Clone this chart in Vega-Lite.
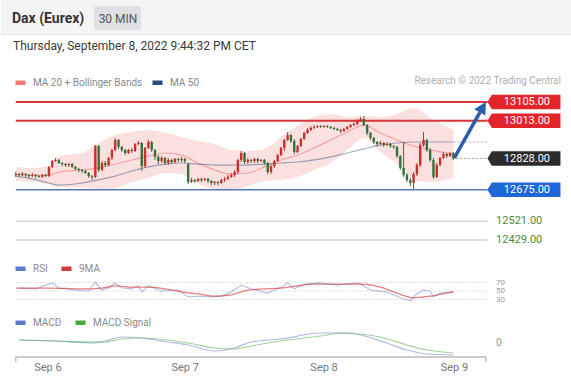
{
  "$schema": "https://vega.github.io/schema/vega-lite/v6.json",
  "width": 571,
  "height": 383,
  "autosize": {"type": "fit", "contains": "padding"},
  "padding": 0,
  "background": "white",
  "config": {
    "view": {"stroke": null},
    "axis": {"disable": true},
    "font": "Roboto",
    "legend": {"orient": "none", "direction": "horizontal", "padding": 0, "offset": 0, "symbolType": "stroke", "symbolSize": 100, "symbolStrokeWidth": 4.5, "symbolOpacity": 1, "labelFont": "Roboto", "labelFontSize": 10, "labelColor": "#8a8a8a", "labelOffset": 5, "columnPadding": 0, "title": null}
  },
  "datasets": {
    "candles": [
      {"i":0,"o":12747,"h":12762,"l":12738,"c":12752},
      {"i":1,"o":12752,"h":12757,"l":12738,"c":12747},
      {"i":2,"o":12747,"h":12762,"l":12742,"c":12752},
      {"i":3,"o":12752,"h":12757,"l":12738,"c":12747},
      {"i":4,"o":12747,"h":12752,"l":12733,"c":12742},
      {"i":5,"o":12742,"h":12757,"l":12738,"c":12747},
      {"i":6,"o":12747,"h":12752,"l":12733,"c":12742},
      {"i":7,"o":12742,"h":12747,"l":12733,"c":12738},
      {"i":8,"o":12738,"h":12752,"l":12733,"c":12747},
      {"i":9,"o":12747,"h":12752,"l":12738,"c":12742},
      {"i":10,"o":12742,"h":12791,"l":12738,"c":12787},
      {"i":11,"o":12787,"h":12821,"l":12782,"c":12816},
      {"i":12,"o":12816,"h":12831,"l":12811,"c":12821},
      {"i":13,"o":12821,"h":12826,"l":12801,"c":12806},
      {"i":14,"o":12806,"h":12811,"l":12791,"c":12801},
      {"i":15,"o":12801,"h":12806,"l":12787,"c":12796},
      {"i":16,"o":12796,"h":12806,"l":12787,"c":12801},
      {"i":17,"o":12801,"h":12806,"l":12782,"c":12787},
      {"i":18,"o":12787,"h":12791,"l":12772,"c":12777},
      {"i":19,"o":12777,"h":12782,"l":12762,"c":12772},
      {"i":20,"o":12772,"h":12777,"l":12757,"c":12767},
      {"i":21,"o":12767,"h":12772,"l":12752,"c":12757},
      {"i":22,"o":12757,"h":12762,"l":12733,"c":12742},
      {"i":23,"o":12742,"h":12747,"l":12723,"c":12738},
      {"i":24,"o":12738,"h":12894,"l":12733,"c":12889},
      {"i":25,"o":12889,"h":12894,"l":12762,"c":12772},
      {"i":26,"o":12772,"h":12816,"l":12767,"c":12806},
      {"i":27,"o":12806,"h":12816,"l":12787,"c":12796},
      {"i":28,"o":12796,"h":12836,"l":12791,"c":12831},
      {"i":29,"o":12831,"h":12875,"l":12821,"c":12870},
      {"i":30,"o":12870,"h":12929,"l":12865,"c":12919},
      {"i":31,"o":12919,"h":12924,"l":12875,"c":12885},
      {"i":32,"o":12885,"h":12889,"l":12860,"c":12870},
      {"i":33,"o":12870,"h":12875,"l":12845,"c":12855},
      {"i":34,"o":12855,"h":12875,"l":12850,"c":12870},
      {"i":35,"o":12870,"h":12880,"l":12855,"c":12865},
      {"i":36,"o":12865,"h":12904,"l":12860,"c":12899},
      {"i":37,"o":12899,"h":12914,"l":12894,"c":12904},
      {"i":38,"o":12904,"h":12909,"l":12767,"c":12791},
      {"i":39,"o":12791,"h":12885,"l":12782,"c":12880},
      {"i":40,"o":12880,"h":12919,"l":12875,"c":12909},
      {"i":41,"o":12909,"h":12914,"l":12860,"c":12870},
      {"i":42,"o":12870,"h":12875,"l":12821,"c":12836},
      {"i":43,"o":12836,"h":12845,"l":12801,"c":12816},
      {"i":44,"o":12816,"h":12840,"l":12806,"c":12831},
      {"i":45,"o":12831,"h":12836,"l":12796,"c":12806},
      {"i":46,"o":12806,"h":12831,"l":12796,"c":12821},
      {"i":47,"o":12821,"h":12826,"l":12801,"c":12811},
      {"i":48,"o":12811,"h":12831,"l":12806,"c":12826},
      {"i":49,"o":12826,"h":12831,"l":12811,"c":12821},
      {"i":50,"o":12821,"h":12836,"l":12811,"c":12826},
      {"i":51,"o":12826,"h":12831,"l":12806,"c":12816},
      {"i":52,"o":12801,"h":12806,"l":12703,"c":12713},
      {"i":53,"o":12713,"h":12733,"l":12708,"c":12723},
      {"i":54,"o":12723,"h":12728,"l":12708,"c":12718},
      {"i":55,"o":12718,"h":12733,"l":12713,"c":12728},
      {"i":56,"o":12728,"h":12733,"l":12713,"c":12723},
      {"i":57,"o":12723,"h":12733,"l":12718,"c":12728},
      {"i":58,"o":12728,"h":12733,"l":12708,"c":12718},
      {"i":59,"o":12718,"h":12723,"l":12698,"c":12708},
      {"i":60,"o":12708,"h":12718,"l":12698,"c":12713},
      {"i":61,"o":12713,"h":12718,"l":12698,"c":12708},
      {"i":62,"o":12708,"h":12728,"l":12703,"c":12723},
      {"i":63,"o":12723,"h":12738,"l":12713,"c":12728},
      {"i":64,"o":12728,"h":12747,"l":12723,"c":12738},
      {"i":65,"o":12738,"h":12757,"l":12733,"c":12747},
      {"i":66,"o":12747,"h":12772,"l":12738,"c":12762},
      {"i":67,"o":12762,"h":12826,"l":12752,"c":12821},
      {"i":68,"o":12821,"h":12865,"l":12811,"c":12855},
      {"i":69,"o":12855,"h":12860,"l":12801,"c":12811},
      {"i":70,"o":12811,"h":12831,"l":12801,"c":12821},
      {"i":71,"o":12821,"h":12826,"l":12806,"c":12816},
      {"i":72,"o":12816,"h":12831,"l":12806,"c":12826},
      {"i":73,"o":12826,"h":12831,"l":12806,"c":12816},
      {"i":74,"o":12816,"h":12826,"l":12811,"c":12821},
      {"i":75,"o":12821,"h":12826,"l":12796,"c":12806},
      {"i":76,"o":12806,"h":12811,"l":12752,"c":12762},
      {"i":77,"o":12762,"h":12796,"l":12752,"c":12791},
      {"i":78,"o":12791,"h":12821,"l":12782,"c":12816},
      {"i":79,"o":12816,"h":12850,"l":12811,"c":12845},
      {"i":80,"o":12845,"h":12885,"l":12840,"c":12880},
      {"i":81,"o":12880,"h":12924,"l":12865,"c":12919},
      {"i":82,"o":12919,"h":12958,"l":12914,"c":12943},
      {"i":83,"o":12943,"h":12948,"l":12904,"c":12914},
      {"i":84,"o":12914,"h":12924,"l":12850,"c":12860},
      {"i":85,"o":12860,"h":12894,"l":12855,"c":12889},
      {"i":86,"o":12889,"h":12929,"l":12885,"c":12924},
      {"i":87,"o":12924,"h":12958,"l":12919,"c":12953},
      {"i":88,"o":12953,"h":12978,"l":12948,"c":12968},
      {"i":89,"o":12968,"h":12987,"l":12963,"c":12978},
      {"i":90,"o":12978,"h":12992,"l":12973,"c":12983},
      {"i":91,"o":12983,"h":12992,"l":12978,"c":12987},
      {"i":92,"o":12987,"h":12992,"l":12978,"c":12983},
      {"i":93,"o":12983,"h":12992,"l":12978,"c":12987},
      {"i":94,"o":12987,"h":12992,"l":12978,"c":12983},
      {"i":95,"o":12983,"h":12987,"l":12973,"c":12978},
      {"i":96,"o":12978,"h":12983,"l":12968,"c":12973},
      {"i":97,"o":12973,"h":12978,"l":12963,"c":12968},
      {"i":98,"o":12968,"h":12973,"l":12953,"c":12963},
      {"i":99,"o":12963,"h":12978,"l":12958,"c":12973},
      {"i":100,"o":12973,"h":12987,"l":12968,"c":12983},
      {"i":101,"o":12983,"h":12997,"l":12978,"c":12992},
      {"i":102,"o":12992,"h":13007,"l":12987,"c":12997},
      {"i":103,"o":12997,"h":13022,"l":12992,"c":13012},
      {"i":104,"o":13012,"h":13032,"l":13007,"c":13022},
      {"i":105,"o":13022,"h":13036,"l":12987,"c":12992},
      {"i":106,"o":12992,"h":12997,"l":12943,"c":12953},
      {"i":107,"o":12953,"h":12958,"l":12919,"c":12929},
      {"i":108,"o":12929,"h":12934,"l":12899,"c":12909},
      {"i":109,"o":12909,"h":12914,"l":12889,"c":12899},
      {"i":110,"o":12899,"h":12914,"l":12894,"c":12904},
      {"i":111,"o":12904,"h":12909,"l":12885,"c":12894},
      {"i":112,"o":12894,"h":12909,"l":12889,"c":12899},
      {"i":113,"o":12899,"h":12904,"l":12880,"c":12889},
      {"i":114,"o":12889,"h":12894,"l":12875,"c":12885},
      {"i":115,"o":12885,"h":12889,"l":12831,"c":12840},
      {"i":116,"o":12840,"h":12845,"l":12772,"c":12782},
      {"i":117,"o":12782,"h":12909,"l":12738,"c":12747},
      {"i":118,"o":12747,"h":12757,"l":12713,"c":12723},
      {"i":119,"o":12723,"h":12733,"l":12693,"c":12708},
      {"i":120,"o":12708,"h":12762,"l":12679,"c":12752},
      {"i":121,"o":12752,"h":12806,"l":12742,"c":12796},
      {"i":122,"o":12796,"h":12904,"l":12787,"c":12894},
      {"i":123,"o":12894,"h":12958,"l":12885,"c":12919},
      {"i":124,"o":12919,"h":12924,"l":12860,"c":12870},
      {"i":125,"o":12870,"h":12880,"l":12811,"c":12821},
      {"i":126,"o":12821,"h":12831,"l":12728,"c":12738},
      {"i":127,"o":12738,"h":12806,"l":12733,"c":12796},
      {"i":128,"o":12796,"h":12836,"l":12791,"c":12831},
      {"i":129,"o":12831,"h":12860,"l":12826,"c":12850},
      {"i":130,"o":12850,"h":12855,"l":12831,"c":12840},
      {"i":131,"o":12840,"h":12860,"l":12836,"c":12855},
      {"i":132,"o":12855,"h":12860,"l":12821,"c":12828}
    ],
    "band": [
      {"i":0,"up":12787,"ma20":12752,"lo":12718,"ma50":12742},
      {"i":5,"up":12782,"ma20":12747,"lo":12713,"ma50":12728},
      {"i":10,"up":12791,"ma20":12747,"lo":12703,"ma50":12708},
      {"i":13,"up":12840,"ma20":12762,"lo":12688,"ma50":12698},
      {"i":20,"up":12855,"ma20":12772,"lo":12688,"ma50":12708},
      {"i":25,"up":12904,"ma20":12782,"lo":12679,"ma50":12723},
      {"i":30,"up":12943,"ma20":12801,"lo":12684,"ma50":12742},
      {"i":35,"up":12958,"ma20":12821,"lo":12713,"ma50":12767},
      {"i":40,"up":12968,"ma20":12840,"lo":12733,"ma50":12787},
      {"i":45,"up":12953,"ma20":12855,"lo":12757,"ma50":12801},
      {"i":50,"up":12934,"ma20":12845,"lo":12752,"ma50":12806},
      {"i":55,"up":12914,"ma20":12806,"lo":12703,"ma50":12801},
      {"i":60,"up":12899,"ma20":12772,"lo":12679,"ma50":12796},
      {"i":65,"up":12870,"ma20":12752,"lo":12674,"ma50":12796},
      {"i":70,"up":12865,"ma20":12757,"lo":12693,"ma50":12796},
      {"i":75,"up":12875,"ma20":12787,"lo":12718,"ma50":12801},
      {"i":80,"up":12934,"ma20":12821,"lo":12723,"ma50":12806},
      {"i":85,"up":12987,"ma20":12845,"lo":12738,"ma50":12811},
      {"i":90,"up":13032,"ma20":12880,"lo":12772,"ma50":12821},
      {"i":95,"up":13046,"ma20":12919,"lo":12806,"ma50":12836},
      {"i":100,"up":13032,"ma20":12958,"lo":12870,"ma50":12855},
      {"i":105,"up":13036,"ma20":12992,"lo":12929,"ma50":12875},
      {"i":110,"up":13032,"ma20":12953,"lo":12860,"ma50":12894},
      {"i":115,"up":13046,"ma20":12919,"lo":12801,"ma50":12904},
      {"i":120,"up":13076,"ma20":12889,"lo":12723,"ma50":12909},
      {"i":125,"up":13027,"ma20":12870,"lo":12713,"ma50":12909},
      {"i":132,"up":12968,"ma20":12850,"lo":12733,"ma50":12909}
    ],
    "rsi": [
      {"i":1,"v":57},{"i":6,"v":55},{"i":11,"v":69},{"i":13,"v":57},{"i":18,"v":52},{"i":22,"v":50},
      {"i":24,"v":71},{"i":26,"v":52},{"i":28,"v":57},{"i":30,"v":69},{"i":32,"v":57},{"i":35,"v":55},
      {"i":37,"v":62},{"i":38,"v":48},{"i":40,"v":62},{"i":44,"v":50},{"i":49,"v":52},{"i":52,"v":36},
      {"i":56,"v":38},{"i":58,"v":36},{"i":62,"v":38},{"i":65,"v":48},{"i":68,"v":64},{"i":71,"v":55},
      {"i":76,"v":45},{"i":80,"v":59},{"i":82,"v":69},{"i":84,"v":55},{"i":87,"v":66},{"i":92,"v":69},
      {"i":97,"v":64},{"i":103,"v":69},{"i":105,"v":62},{"i":107,"v":52},{"i":112,"v":48},{"i":116,"v":34},
      {"i":119,"v":27},{"i":121,"v":43},{"i":123,"v":52},{"i":125,"v":50},{"i":126,"v":36},{"i":128,"v":45},
      {"i":132,"v":48}
    ],
    "rsima": [
      {"i":0,"v":57},{"i":10,"v":57},{"i":20,"v":55},{"i":26,"v":57},{"i":30,"v":62},{"i":35,"v":59},
      {"i":40,"v":59},{"i":45,"v":55},{"i":50,"v":48},{"i":55,"v":43},{"i":60,"v":38},{"i":65,"v":41},
      {"i":70,"v":52},{"i":75,"v":55},{"i":80,"v":57},{"i":85,"v":62},{"i":90,"v":66},{"i":95,"v":66},
      {"i":100,"v":66},{"i":105,"v":66},{"i":110,"v":59},{"i":115,"v":45},{"i":120,"v":34},{"i":125,"v":38},
      {"i":130,"v":45},{"i":132,"v":48}
    ],
    "macd": [
      {"i":1,"v":6},{"i":12,"v":4},{"i":23,"v":0},{"i":27,"v":4},{"i":32,"v":12},{"i":38,"v":10},
      {"i":46,"v":2},{"i":52,"v":-4},{"i":60,"v":-16},{"i":66,"v":-10},{"i":71,"v":2},{"i":80,"v":8},
      {"i":92,"v":20},{"i":99,"v":20},{"i":104,"v":16},{"i":111,"v":2},{"i":118,"v":-14},{"i":124,"v":-22},
      {"i":132,"v":-24}
    ],
    "signal": [
      {"i":1,"v":6},{"i":12,"v":4},{"i":23,"v":2},{"i":27,"v":2},{"i":32,"v":8},{"i":38,"v":10},
      {"i":46,"v":6},{"i":52,"v":0},{"i":60,"v":-10},{"i":66,"v":-12},{"i":71,"v":-6},{"i":80,"v":4},
      {"i":92,"v":14},{"i":99,"v":20},{"i":104,"v":18},{"i":111,"v":10},{"i":118,"v":-4},{"i":124,"v":-14},
      {"i":132,"v":-20}
    ]
  },
  "layer": [
    {
      "layer": [
        {"data": {"values": [{}]}, "mark": {"type": "rect", "fill": "#f4f4f4"},
         "encoding": {"x": {"value": 0}, "x2": {"value": 571}, "y": {"value": 0}, "y2": {"value": 34}}},
        {"data": {"values": [{}]}, "mark": {"type": "rule", "stroke": "#e6e6e6", "strokeWidth": 1},
         "encoding": {"x": {"value": 0}, "x2": {"value": 571}, "y": {"value": 34.5}}},
        {"data": {"values": [{}]}, "mark": {"type": "rect", "fill": "#dfe1e4", "cornerRadius": 2},
         "encoding": {"x": {"value": 93}, "x2": {"value": 140}, "y": {"value": 6}, "y2": {"value": 30}}},
        {"data": {"values": [{"t": "Dax (Eurex)"}]}, "mark": {"type": "text", "align": "left", "baseline": "middle", "fontSize": 14, "fontWeight": "bold", "fill": "#333333"},
         "encoding": {"text": {"field": "t"}, "x": {"value": 11}, "y": {"value": 18.5}}},
        {"data": {"values": [{"t": "30 MIN"}]}, "mark": {"type": "text", "align": "center", "baseline": "middle", "fontSize": 12, "fill": "#555555"},
         "encoding": {"text": {"field": "t"}, "x": {"value": 117}, "y": {"value": 18.5}}},
        {"data": {"values": [{"t": "Thursday, September 8, 2022 9:44:32 PM CET"}]}, "mark": {"type": "text", "align": "left", "baseline": "middle", "fontSize": 12, "fill": "#3a3a3a"},
         "encoding": {"text": {"field": "t"}, "x": {"value": 12}, "y": {"value": 46}}},
        {"data": {"values": [{"t": "Research © 2022 Trading Central"}]}, "mark": {"type": "text", "align": "right", "baseline": "middle", "fontSize": 10, "fill": "#b0b0b0"},
         "encoding": {"text": {"field": "t"}, "x": {"value": 560}, "y": {"value": 81}}},
        {"data": {"values": [{"i": 9.7, "t": "Sep 6"}, {"i": 51.1, "t": "Sep 7"}, {"i": 93, "t": "Sep 8"}, {"i": 132.3, "t": "Sep 9"}]},
         "mark": {"type": "text", "align": "center", "baseline": "middle", "fontSize": 11, "fill": "#777777"},
         "encoding": {"text": {"field": "t"}, "x": {"field": "i", "type": "quantitative", "scale": {"domain": [-2.953, 165.68], "nice": false, "zero": false}, "axis": null}, "y": {"value": 368}}}
      ]
    },
    {
      "layer": [
        {"data": {"name": "band"}, "mark": {"type": "area", "interpolate": "monotone", "fill": "#f7c2c2", "opacity": 0.5},
         "encoding": {
           "x": {"field": "i", "type": "quantitative", "scale": {"domain": [-2.953, 165.68], "nice": false, "zero": false}, "axis": null},
           "y": {"field": "up", "type": "quantitative", "scale": {"domain": [11728.1, 13604.8], "nice": false, "zero": false}, "axis": null},
           "y2": {"field": "lo"}}},
        {"data": {"name": "band"}, "mark": {"type": "line", "interpolate": "monotone", "strokeWidth": 1.2, "opacity": 0.6},
         "encoding": {
           "x": {"field": "i", "type": "quantitative", "scale": {"domain": [-2.953, 165.68], "nice": false, "zero": false}, "axis": null},
           "y": {"field": "ma20", "type": "quantitative", "scale": {"domain": [11728.1, 13604.8], "nice": false, "zero": false}, "axis": null},
           "color": {"datum": "MA 20 + Bollinger Bands", "type": "nominal", "scale": {"domain": ["MA 20 + Bollinger Bands", "MA 50"], "range": ["#f07a7a", "#2d4a7a"]},
             "legend": {"legendX": 12, "legendY": 75, "columnPadding": 0}}}},
        {"data": {"name": "band"}, "mark": {"type": "line", "interpolate": "monotone", "strokeWidth": 1.2, "opacity": 0.45},
         "encoding": {
           "x": {"field": "i", "type": "quantitative", "scale": {"domain": [-2.953, 165.68], "nice": false, "zero": false}, "axis": null},
           "y": {"field": "ma50", "type": "quantitative", "scale": {"domain": [11728.1, 13604.8], "nice": false, "zero": false}, "axis": null},
           "color": {"datum": "MA 50", "type": "nominal"}}},
        {"data": {"values": [{"p": 12909}]}, "mark": {"type": "rule", "stroke": "#a8b0c8", "strokeWidth": 1, "strokeDash": [2, 2]},
         "encoding": {"x": {"datum": 132, "type": "quantitative"}, "x2": {"datum": 142.35}, "y": {"field": "p", "type": "quantitative"}}},
        {"data": {"values": [{"p": 12828}]}, "mark": {"type": "rule", "stroke": "#9a9a9a", "strokeWidth": 1, "strokeDash": [2, 2]},
         "encoding": {"x": {"datum": 132.9, "type": "quantitative"}, "x2": {"datum": 142.35}, "y": {"field": "p", "type": "quantitative"}}},
        {"data": {"values": [{"p": 13105}, {"p": 13013}]}, "mark": {"type": "rule", "stroke": "#d8353b", "strokeWidth": 2},
         "encoding": {"x": {"datum": 0, "type": "quantitative"}, "x2": {"datum": 142.35}, "y": {"field": "p", "type": "quantitative"}}},
        {"data": {"values": [{"p": 12675}]}, "mark": {"type": "rule", "stroke": "#5677c0", "strokeWidth": 1.5},
         "encoding": {"x": {"datum": 0, "type": "quantitative"}, "x2": {"datum": 142.35}, "y": {"field": "p", "type": "quantitative"}}},
        {"data": {"values": [{"p": 12521}, {"p": 12429}]}, "mark": {"type": "rule", "stroke": "#ccd9cc", "strokeWidth": 1.5},
         "encoding": {"x": {"datum": 0, "type": "quantitative"}, "x2": {"datum": 142.35}, "y": {"field": "p", "type": "quantitative"}}},
        {"data": {"name": "candles"}, "mark": {"type": "rule", "strokeWidth": 1},
         "encoding": {
           "x": {"field": "i", "type": "quantitative"},
           "y": {"field": "l", "type": "quantitative"}, "y2": {"field": "h"},
           "color": {"condition": {"test": "datum.c >= datum.o", "value": "#c9302c"}, "value": "#35703a"}}},
        {"data": {"name": "candles"}, "mark": {"type": "bar", "size": 2.4, "orient": "vertical"},
         "encoding": {
           "x": {"field": "i", "type": "quantitative"},
           "y": {"field": "o", "type": "quantitative"}, "y2": {"field": "c"},
           "color": {"condition": {"test": "datum.c >= datum.o", "value": "#c9302c"}, "value": "#35703a"}}},
        {"data": {"values": [{"i": 132.3, "p": 12831}, {"i": 140.0, "p": 13054}]}, "mark": {"type": "line", "stroke": "#2a5ea8", "strokeWidth": 3.5, "strokeCap": "butt"},
         "encoding": {"x": {"field": "i", "type": "quantitative"}, "y": {"field": "p", "type": "quantitative"}}},
        {"data": {"values": [{"i": 140.66, "p": 13073}]}, "mark": {"type": "point", "shape": "M0,-1L0.85,0.6L-0.85,0.6Z", "size": 225, "filled": true, "fill": "#2a5ea8", "opacity": 1, "angle": 30},
         "encoding": {"x": {"field": "i", "type": "quantitative"}, "y": {"field": "p", "type": "quantitative"}}},
        {"data": {"values": [{"p": 13105, "t": "13105.00", "k": "res"}, {"p": 13013, "t": "13013.00", "k": "res"}, {"p": 12828, "t": "12828.00", "k": "last"}, {"p": 12675, "t": "12675.00", "k": "sup"}]},
         "mark": {"type": "point", "shape": "M-1,0L-0.88,-0.2L1,-0.2L1,0.2L-0.88,0.2Z", "size": 5329, "filled": true, "opacity": 1, "strokeWidth": 0},
         "encoding": {"x": {"datum": 153.3, "type": "quantitative"}, "y": {"field": "p", "type": "quantitative"},
           "fill": {"condition": [{"test": "datum.k == 'last'", "value": "#2b2b2b"}, {"test": "datum.k == 'sup'", "value": "#1f66d6"}], "value": "#e3242b"}}},
        {"data": {"values": [{"p": 13105, "t": "13105.00"}, {"p": 13013, "t": "13013.00"}, {"p": 12828, "t": "12828.00"}, {"p": 12675, "t": "12675.00"}]},
         "mark": {"type": "text", "align": "center", "baseline": "middle", "fontSize": 11, "fill": "white"},
         "encoding": {"x": {"datum": 154.2, "type": "quantitative"}, "y": {"field": "p", "type": "quantitative"}, "text": {"field": "t"}}},
        {"data": {"values": [{"p": 12521, "t": "12521.00"}, {"p": 12429, "t": "12429.00"}]},
         "mark": {"type": "text", "align": "left", "baseline": "middle", "fontSize": 11, "fill": "#4e8a44"},
         "encoding": {"x": {"datum": 144.9, "type": "quantitative"}, "y": {"field": "p", "type": "quantitative"}, "text": {"field": "t"}}}
      ]
    },
    {
      "layer": [
        {"data": {"values": [{"r": 70}, {"r": 50}, {"r": 30}]}, "mark": {"type": "rule", "stroke": "#c9c9c9", "strokeWidth": 1, "strokeDash": [1, 2]},
         "encoding": {"x": {"datum": 0, "type": "quantitative", "scale": {"domain": [-2.953, 165.68], "nice": false, "zero": false}}, "x2": {"datum": 141.8},
           "y": {"field": "r", "type": "quantitative", "scale": {"domain": [-166.47, 734.71], "nice": false, "zero": false}, "axis": null}}},
        {"data": {"values": [{"r": 70}, {"r": 50}, {"r": 30}]}, "mark": {"type": "text", "align": "left", "baseline": "middle", "fontSize": 8, "fill": "#9a9a9a"},
         "encoding": {"x": {"datum": 144.9, "type": "quantitative"}, "y": {"field": "r", "type": "quantitative"}, "text": {"field": "r"}}},
        {"data": {"name": "rsi"}, "mark": {"type": "line", "strokeWidth": 1.2, "opacity": 0.45},
         "encoding": {"x": {"field": "i", "type": "quantitative"}, "y": {"field": "v", "type": "quantitative"},
           "color": {"datum": "RSI", "type": "nominal", "scale": {"domain": ["RSI", "9MA"], "range": ["#5b79c9", "#d63a3a"]}, "legend": {"legendX": 12, "legendY": 261, "columnPadding": 4}}}},
        {"data": {"name": "rsima"}, "mark": {"type": "line", "strokeWidth": 1.3, "opacity": 0.65, "interpolate": "monotone"},
         "encoding": {"x": {"field": "i", "type": "quantitative"}, "y": {"field": "v", "type": "quantitative"},
           "color": {"datum": "9MA", "type": "nominal"}}}
      ]
    },
    {
      "layer": [
        {"data": {"name": "macd"}, "mark": {"type": "line", "strokeWidth": 1.2, "opacity": 0.5, "interpolate": "monotone"},
         "encoding": {"x": {"field": "i", "type": "quantitative", "scale": {"domain": [-2.953, 165.68], "nice": false, "zero": false}},
           "y": {"field": "v", "type": "quantitative", "scale": {"domain": [-80, 686], "nice": false, "zero": false}, "axis": null},
           "color": {"datum": "MACD", "type": "nominal", "scale": {"domain": ["MACD", "MACD Signal"], "range": ["#5b79c9", "#4aa83e"]}, "legend": {"legendX": 12, "legendY": 315, "columnPadding": 4}}}},
        {"data": {"name": "signal"}, "mark": {"type": "line", "strokeWidth": 1.2, "opacity": 0.5, "interpolate": "monotone"},
         "encoding": {"x": {"field": "i", "type": "quantitative"}, "y": {"field": "v", "type": "quantitative"},
           "color": {"datum": "MACD Signal", "type": "nominal"}}},
        {"data": {"values": [{"t": "0", "v": 0}]}, "mark": {"type": "text", "align": "left", "baseline": "middle", "fontSize": 10.5, "fill": "#9a9a9a"},
         "encoding": {"x": {"datum": 144.9, "type": "quantitative"}, "y": {"field": "v", "type": "quantitative"}, "text": {"field": "t"}}},
        {"data": {"values": [{"v": -28}]}, "mark": {"type": "rule", "stroke": "#bdbdbd", "strokeWidth": 1.5},
         "encoding": {"x": {"datum": 0, "type": "quantitative"}, "x2": {"datum": 141.8}, "y": {"field": "v", "type": "quantitative"}}},
        {"data": {"values": [{"i": 0}, {"i": 141.8}]}, "mark": {"type": "rule", "stroke": "#bdbdbd", "strokeWidth": 1.5},
         "encoding": {"x": {"field": "i", "type": "quantitative"}, "y": {"datum": -28, "type": "quantitative"}, "y2": {"datum": -38}}}
      ]
    }
  ],
  "resolve": {"scale": {"y": "independent", "color": "independent"}}
}
